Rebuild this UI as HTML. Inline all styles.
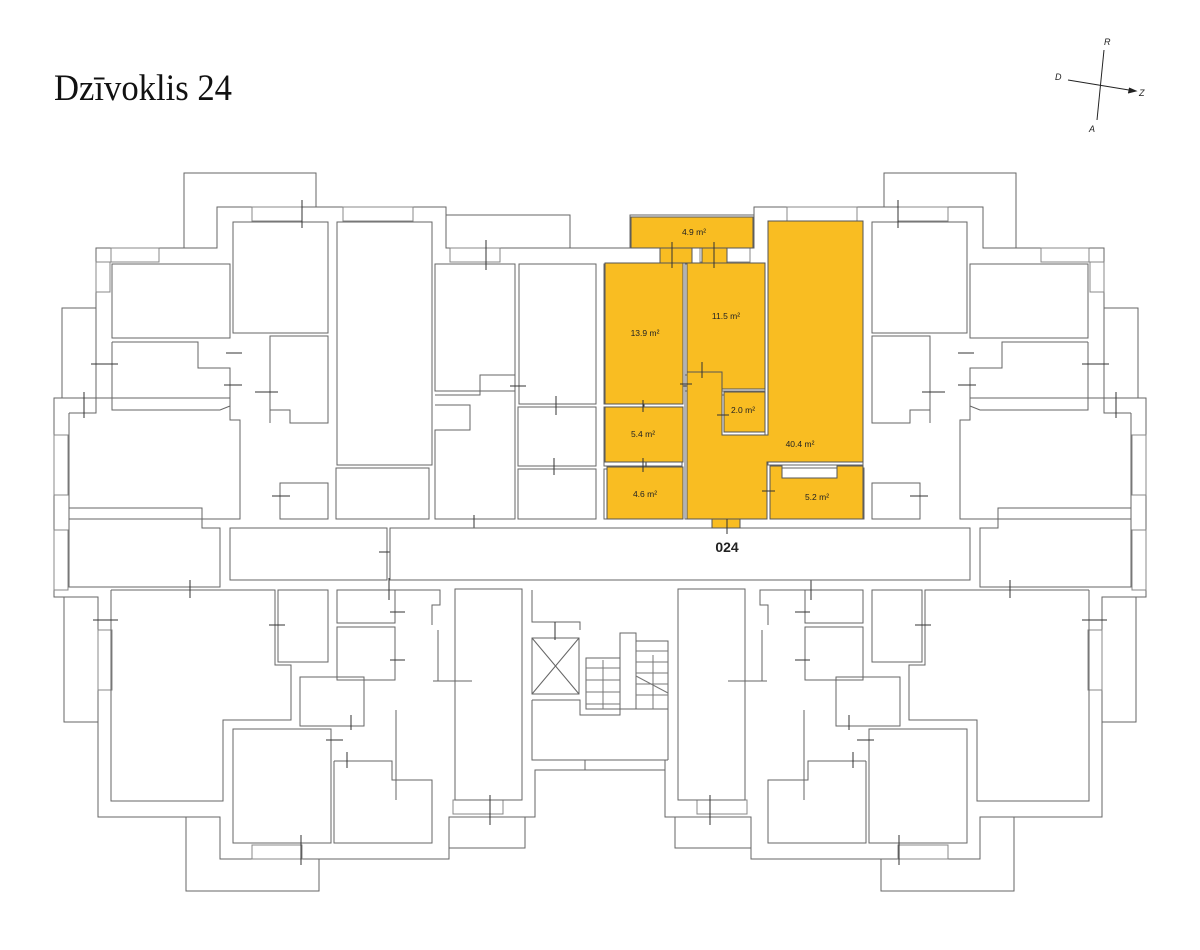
<!DOCTYPE html>
<html><head><meta charset="utf-8"><style>
html,body{margin:0;padding:0;background:#fff;}
svg{display:block;}
</style></head><body>
<svg width="1200" height="950" viewBox="0 0 1200 950" xmlns="http://www.w3.org/2000/svg">
<rect width="1200" height="950" fill="#fff"/>
<text x="54" y="100" font-family="Liberation Serif, serif" font-size="37" fill="#111" textLength="178" lengthAdjust="spacingAndGlyphs">Dzīvoklis 24</text>
<g stroke="#222" stroke-width="1" fill="none">
<line x1="1104" y1="50" x2="1097" y2="120"/>
<line x1="1068" y1="80" x2="1135" y2="91"/>
<path d="M1129,88 L1136,91 L1128,93" fill="#222"/>
</g>
<g font-family="Liberation Sans, sans-serif" font-size="9" font-style="italic" fill="#222">
<text x="1104" y="45">R</text><text x="1055" y="80">D</text><text x="1139" y="96">Z</text><text x="1089" y="132">A</text>
</g>
<defs>
<g id="half" fill="none" stroke="#666" stroke-width="1">
<polyline points="600,248 446,248 446,207 217,207 217,248 96,248 96,398 54,398 54,597 98,597 98,817 220,817 220,859 449,859 449,817 535,817 535,770 600,770"/>
<polyline points="184,248 184,173 316,173 316,207"/>
<polyline points="62,398 62,308 96,308"/>
<polyline points="64,597 64,722 98,722"/>
<polyline points="186,817 186,891 319,891 319,859"/>
<rect x="449" y="817" width="76" height="31"/>
<polyline points="446,215 570,215 570,248"/>
<g stroke="#888">
<rect x="252" y="207" width="50" height="14"/><rect x="343" y="207" width="70" height="14"/>
<rect x="111" y="248" width="48" height="14"/><rect x="96" y="262" width="14" height="30"/>
<rect x="450" y="248" width="50" height="14"/><rect x="54" y="435" width="14" height="60"/>
<rect x="54" y="530" width="14" height="60"/><rect x="98" y="630" width="14" height="60"/>
<rect x="252" y="845" width="50" height="14"/><rect x="453" y="800" width="50" height="14"/>
</g>
<rect x="233" y="222" width="95" height="111"/>
<rect x="112" y="264" width="118" height="74"/>
<polyline points="112,342 198,342 198,368 230,368 230,406 220,410 112,410 112,342"/>
<rect x="337" y="222" width="95" height="243"/>
<rect x="435" y="264" width="80" height="127"/>
<rect x="519" y="264" width="77" height="140"/>
<rect x="518" y="407" width="78" height="59"/>
<rect x="518" y="469" width="78" height="50"/>
<polyline points="270,423 270,336 328,336 328,423 290,423 290,410 270,410"/>
<polyline points="69,413 96,413 96,398 230,398 230,420 240,420 240,519 69,519 69,413"/>
<rect x="336" y="468" width="93" height="51"/>
<rect x="280" y="483" width="48" height="36"/>
<polyline points="69,498 69,508 202,508 202,528 220,528 220,587 69,587 69,508"/>
<rect x="230" y="528" width="157" height="52"/>
<polyline points="435,395 480,395 480,375 515,375 515,519 435,519 435,430 470,430 470,405 435,405"/>
<polyline points="111,590 275,590 275,665 291,665 291,720 223,720 223,801 111,801 111,590"/>
<rect x="278" y="590" width="50" height="72"/>
<rect x="300" y="677" width="64" height="49"/>
<rect x="233" y="729" width="98" height="114"/>
<polyline points="334,761 392,761 392,780 432,780 432,843 334,843 334,761"/>
<rect x="337" y="590" width="58" height="33"/>
<rect x="337" y="627" width="58" height="53"/>
<polyline points="395,590 440,590 440,605 432,605 432,625"/>
<rect x="455" y="589" width="67" height="211"/>
<line x1="433" y1="681" x2="472" y2="681"/>
<line x1="438" y1="630" x2="438" y2="681"/>
<line x1="396" y1="710" x2="396" y2="800"/>
<g stroke="#333">
<line x1="302" y1="200" x2="302" y2="228"/><line x1="486" y1="240" x2="486" y2="270"/>
<line x1="226" y1="353" x2="242" y2="353"/><line x1="91" y1="364" x2="118" y2="364"/>
<line x1="224" y1="385" x2="242" y2="385"/><line x1="255" y1="392" x2="278" y2="392"/>
<line x1="84" y1="392" x2="84" y2="418"/><line x1="510" y1="386" x2="526" y2="386"/>
<line x1="556" y1="396" x2="556" y2="415"/><line x1="554" y1="458" x2="554" y2="475"/>
<line x1="272" y1="496" x2="290" y2="496"/><line x1="474" y1="515" x2="474" y2="535"/>
<line x1="379" y1="552" x2="396" y2="552"/><line x1="190" y1="580" x2="190" y2="598"/>
<line x1="93" y1="620" x2="118" y2="620"/><line x1="269" y1="625" x2="285" y2="625"/>
<line x1="389" y1="578" x2="389" y2="600"/><line x1="390" y1="612" x2="405" y2="612"/>
<line x1="390" y1="660" x2="405" y2="660"/><line x1="351" y1="715" x2="351" y2="730"/>
<line x1="326" y1="740" x2="343" y2="740"/><line x1="347" y1="752" x2="347" y2="768"/>
<line x1="301" y1="835" x2="301" y2="865"/><line x1="490" y1="795" x2="490" y2="825"/>
</g>
</g>
</defs>
<use href="#half"/>
<use href="#half" transform="translate(1200,0) scale(-1,1)"/>
<!-- stairwell (not mirrored) -->
<g fill="none" stroke="#666" stroke-width="1">
<rect x="532" y="638" width="47" height="56"/>
<line x1="532" y1="638" x2="579" y2="694"/><line x1="579" y1="638" x2="532" y2="694"/>
<polyline points="532,590 532,622 580,622 580,630"/>
<polyline points="532,700 580,700 580,715 620,715 620,709"/>
<polyline points="532,700 532,760 668,760"/>
<line x1="668" y1="700" x2="668" y2="760"/>
<rect x="585" y="760" width="80" height="10"/>
<rect x="586" y="658" width="34" height="51"/>
<rect x="620" y="633" width="16" height="76"/>
<rect x="636" y="641" width="32" height="68"/>
<g stroke="#777">
<line x1="586" y1="668" x2="620" y2="668"/><line x1="586" y1="680" x2="620" y2="680"/>
<line x1="586" y1="692" x2="620" y2="692"/><line x1="586" y1="704" x2="620" y2="704"/>
<line x1="603" y1="660" x2="603" y2="709"/>
<line x1="636" y1="651" x2="668" y2="651"/><line x1="636" y1="662" x2="668" y2="662"/>
<line x1="636" y1="673" x2="668" y2="673"/><line x1="636" y1="684" x2="668" y2="684"/>
<line x1="636" y1="695" x2="668" y2="695"/>
<line x1="653" y1="655" x2="653" y2="709"/>
<line x1="636" y1="676" x2="668" y2="693"/>
</g>
<line x1="555" y1="622" x2="555" y2="640" stroke="#333"/>
</g>
<g fill="#fff" stroke="#666" stroke-width="1">
<rect x="390" y="528" width="580" height="52"/>
</g>
<g fill="#F9BD22" stroke="#555" stroke-width="1">
<rect x="631" y="217" width="122" height="31"/>
<rect x="605" y="263" width="78" height="141"/>
<rect x="687" y="263" width="78" height="126"/>
<polygon points="768,221 863,221 863,462 767,462 767,519 687,519 687,372 722,372 722,435 768,435"/>
<rect x="724" y="392" width="41" height="40"/>
<rect x="605" y="407" width="78" height="55"/>
<rect x="607" y="467" width="76" height="52"/>
<polygon points="770,466 782,466 782,478 837,478 837,466 863,466 863,519 770,519"/>
<rect x="660" y="248" width="32" height="15"/>
<rect x="702" y="248" width="25" height="15"/>
<rect x="712" y="519" width="28" height="9"/>
</g>
<g stroke="#333" stroke-width="1">
<line x1="672" y1="242" x2="672" y2="268"/><line x1="714" y1="242" x2="714" y2="268"/>
<line x1="643" y1="400" x2="643" y2="412"/><line x1="643" y1="458" x2="643" y2="472"/>
<line x1="680" y1="384" x2="692" y2="384"/><line x1="717" y1="415" x2="729" y2="415"/>
<line x1="762" y1="491" x2="775" y2="491"/><line x1="727" y1="519" x2="727" y2="534"/>
<line x1="702" y1="362" x2="702" y2="378"/>
</g>
<g font-family="Liberation Sans, sans-serif" font-size="8.5" fill="#222" text-anchor="middle">
<text x="694" y="235">4.9 m²</text>
<text x="645" y="336">13.9 m²</text>
<text x="726" y="319">11.5 m²</text>
<text x="743" y="413">2.0 m²</text>
<text x="800" y="447">40.4 m²</text>
<text x="643" y="437">5.4 m²</text>
<text x="645" y="497">4.6 m²</text>
<text x="817" y="500">5.2 m²</text>
</g>
<text x="727" y="552" font-family="Liberation Sans, sans-serif" font-size="14" font-weight="bold" fill="#222" text-anchor="middle">024</text>
</svg>
</body></html>
